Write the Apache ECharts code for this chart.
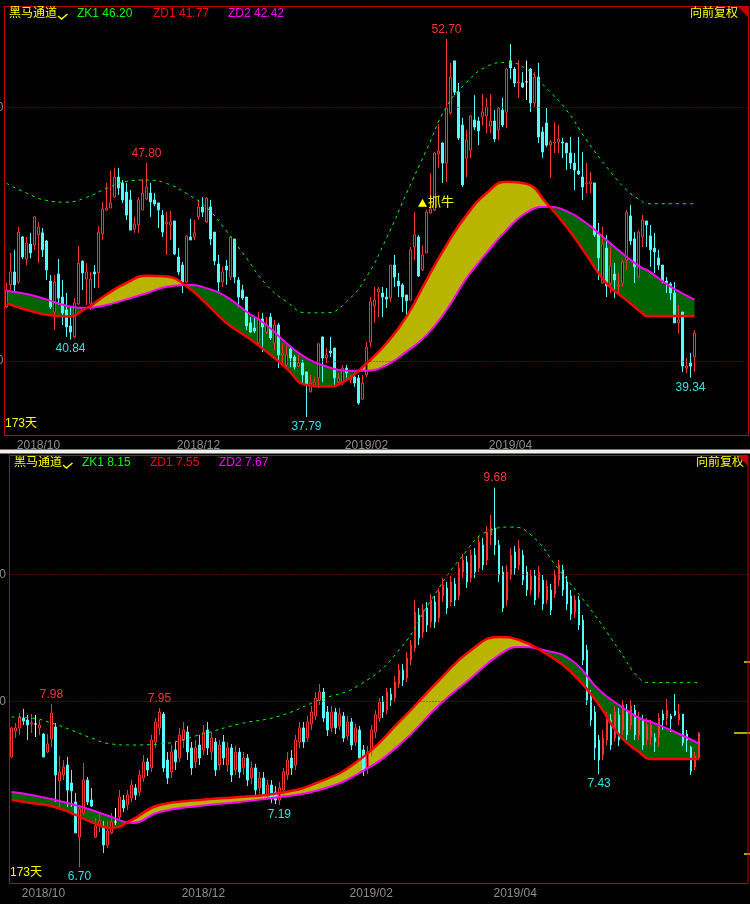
<!DOCTYPE html>
<html><head><meta charset="utf-8">
<script src="https://cdn.jsdelivr.net/npm/echarts@6/dist/echarts.min.js"></script>
<style>html,body{margin:0;padding:0;background:#000;}#c{width:750px;height:904px;}</style>
</head><body><div id="c"></div>
<script>
// ---------- shared ----------
const tickLabels = ['2018/10', '2018/12', '2019/02', '2019/04'];
const tickIndex = [8, 48, 90, 126];
const dayCountText = '173天';

// ---------- top panel (price) ----------
const topOpen = [42.13,43.00,43.51,43.11,44.89,44.02,44.61,44.57,44.97,45.05,44.73,43.15,41.93,43.43,42.52,42.01,41.38,40.95,42.25,43.94,43.23,42.25,43.51,43.47,45.01,45.95,46.03,46.46,47.25,47.02,46.66,46.35,45.20,45.36,45.95,46.39,46.62,46.35,46.23,45.75,45.40,45.36,45.52,44.10,43.78,43.11,44.89,44.89,45.68,46.07,45.48,46.07,45.08,43.82,43.11,43.74,43.31,44.81,43.19,42.80,42.52,41.50,41.30,40.71,41.66,41.14,41.73,40.71,41.42,40.24,39.84,40.47,40.16,39.80,39.92,39.57,38.78,39.05,39.33,40.95,40.12,40.39,40.51,39.17,39.13,39.72,39.25,39.37,39.33,38.50,39.45,40.75,42.17,42.72,42.68,42.52,42.48,43.78,43.15,43.00,42.60,42.40,44.49,44.89,43.59,44.26,45.83,45.95,48.16,48.59,47.80,49.78,51.83,50.60,49.30,48.00,48.32,49.50,49.46,49.62,49.66,49.26,49.46,49.11,49.89,49.81,51.83,51.51,50.96,50.96,51.00,51.51,50.17,51.19,49.03,49.38,48.51,48.59,48.63,48.63,48.59,48.20,47.80,47.49,47.25,46.98,46.98,47.02,45.01,43.07,44.45,43.07,43.43,42.96,43.07,43.98,45.72,44.81,43.31,44.89,45.52,44.93,44.45,44.06,43.78,43.15,43.04,42.68,41.50,41.93,39.72,39.92,40.16];
const topClose = [42.80,43.51,43.00,45.08,44.10,44.65,44.26,45.68,45.28,44.38,43.59,42.13,43.11,42.48,41.89,41.34,41.14,42.29,43.86,43.47,43.51,43.23,43.43,45.08,45.99,46.03,46.23,47.25,46.82,46.35,45.75,45.16,45.40,46.35,46.62,46.86,46.27,46.19,45.95,45.08,45.48,45.48,44.22,43.51,43.11,44.93,44.77,45.05,46.07,45.87,46.42,44.81,43.94,43.11,43.51,43.59,44.89,43.31,42.52,42.48,41.38,41.14,41.18,41.66,41.34,41.42,40.91,41.42,40.24,40.32,40.24,40.12,39.76,39.92,39.45,39.05,39.13,39.17,40.67,40.12,40.24,40.32,39.33,39.33,39.72,39.53,39.37,39.13,38.34,39.13,40.55,42.33,42.40,42.84,42.52,42.44,43.78,43.31,42.96,42.52,42.37,44.38,44.97,43.35,44.18,45.87,45.99,48.20,48.28,47.80,49.97,51.19,50.60,48.79,46.94,48.71,49.66,49.22,49.07,49.81,50.01,49.46,48.75,49.97,49.30,51.51,51.55,50.96,51.00,50.80,51.00,50.17,51.19,48.83,48.24,48.51,48.63,48.63,48.75,48.59,48.20,47.80,47.53,47.37,46.86,47.02,47.06,44.97,44.06,44.61,42.96,43.74,43.19,43.00,43.90,45.87,44.73,43.71,45.08,45.56,45.36,44.38,44.30,43.78,43.15,43.07,42.68,41.50,41.62,39.80,39.80,39.80,41.10];
const topLow = [42.09,42.80,42.68,43.04,44.02,43.78,44.06,44.38,43.86,44.10,43.19,42.05,41.22,42.21,41.42,40.95,40.84,40.90,42.21,42.80,42.21,42.01,42.88,42.88,44.77,45.91,46.03,46.42,46.54,46.23,45.56,45.16,45.05,45.05,45.95,46.35,45.68,46.11,45.24,44.89,44.18,44.77,44.18,43.39,42.68,43.07,44.77,44.77,45.56,45.68,45.44,44.57,43.78,42.72,42.92,43.00,43.19,43.07,42.13,42.40,41.22,41.10,41.10,40.63,40.35,41.06,40.83,40.43,39.72,39.92,39.72,39.76,39.65,39.76,39.13,37.79,38.78,38.94,38.94,39.17,39.92,40.16,39.05,39.05,39.05,39.33,39.13,38.98,38.27,38.46,39.37,40.55,41.50,41.73,41.73,42.09,42.33,42.92,42.52,41.93,41.69,42.37,43.98,43.31,43.55,44.26,45.83,45.91,47.61,47.02,47.06,49.70,50.48,48.71,46.86,47.25,48.00,49.11,48.51,49.30,48.99,48.99,48.63,48.71,49.22,49.18,51.12,50.80,50.37,50.76,50.29,49.81,50.01,48.59,48.00,48.44,47.21,48.20,48.20,48.00,47.53,47.57,46.74,47.33,46.35,46.62,46.62,44.89,43.19,43.07,42.52,42.68,42.48,42.68,42.92,43.59,44.57,43.07,43.27,44.49,44.49,43.71,43.47,43.59,43.07,42.68,42.40,41.50,41.10,39.57,39.53,39.34,39.57];
const topHigh = [43.07,44.26,44.38,45.28,44.93,44.89,45.05,45.70,45.48,45.24,44.77,43.39,43.39,44.02,43.19,42.68,42.13,42.48,44.53,43.96,43.86,43.51,43.78,45.32,46.27,47.02,47.49,47.61,47.61,47.13,47.02,46.74,45.68,46.46,47.17,47.80,47.02,46.62,46.23,45.95,45.87,45.91,45.52,44.45,43.90,44.97,45.60,45.56,46.35,46.46,46.46,46.35,45.08,44.18,43.71,43.98,44.89,44.81,43.31,43.00,42.52,41.73,41.69,41.93,41.89,41.73,41.89,41.62,41.50,40.71,40.63,40.51,40.24,40.24,40.04,39.57,39.45,39.37,40.71,40.95,40.51,40.95,40.51,39.53,39.84,39.84,39.45,39.53,39.45,39.45,40.75,42.52,42.92,42.92,42.92,42.88,43.78,44.18,43.47,43.07,42.60,44.49,45.87,44.97,44.57,45.95,47.41,48.24,49.34,48.63,52.70,51.75,51.83,50.96,49.58,49.11,49.70,50.48,49.62,50.52,50.37,50.52,49.89,50.01,50.37,51.55,52.49,51.59,51.86,51.39,51.83,51.55,51.39,51.75,49.22,49.97,48.71,49.42,49.30,48.79,48.59,48.83,48.20,48.83,48.24,47.80,47.45,47.02,45.44,45.28,44.97,44.49,43.86,43.47,43.98,45.95,46.15,45.08,45.16,45.75,45.52,45.36,45.05,44.38,43.78,43.31,43.11,43.11,42.21,41.93,40.12,40.32,41.22];
const topLineIdx = [0,5,10,15,20,25,30,35,40,45,50,55,60,65,70,75,80,85,90,95,100,105,110,115,120,125,130,135,140,145,150,155,159,160,166,172];
const topZD1 = [42.27,42.02,41.82,41.75,42.08,42.62,43.08,43.36,43.33,42.95,42.25,41.50,40.96,40.37,39.71,39.05,38.99,39.25,39.91,40.70,41.75,43.19,44.57,45.75,46.61,47.07,46.98,46.22,45.29,44.18,43.06,42.40,41.88,41.77,41.77,41.77];
const topZD2 = [42.77,42.64,42.43,42.18,42.10,42.21,42.43,42.67,42.93,43.00,42.87,42.53,41.94,41.42,40.70,40.11,39.78,39.62,39.62,39.84,40.37,41.02,42.01,43.26,44.25,45.16,45.85,46.08,45.91,45.43,44.77,44.11,43.65,43.60,42.93,42.42];
const topZK1 = [47.00,46.62,46.33,46.26,46.45,46.80,47.08,47.13,47.00,46.60,46.05,45.12,44.05,43.00,42.34,41.90,41.90,42.34,43.32,44.84,46.61,48.32,50.02,50.98,51.60,51.77,51.50,50.75,49.89,48.71,47.66,46.74,46.28,46.20,46.20,46.20];
const topCross = [20.5, 44.5, 88, 136];
const topGridValues = [40, 50];
const topHighMarks = [110, 35];
const topLowMarks = [16, 75, 171];
const signalIdx = 104, signalPrice = 46.24, signalText = '抓牛';

// ---------- bottom panel ----------
const botOpen = [7.566,7.770,7.794,7.872,7.856,7.825,7.825,7.794,7.746,7.605,7.707,7.801,7.378,7.425,7.503,7.362,7.213,6.938,7.126,7.385,7.228,6.938,7.024,7.024,6.875,6.970,7.056,7.095,
7.228,7.190,7.244,7.323,7.291,7.401,7.527,7.480,7.684,7.794,7.903,7.542,7.448,7.621,7.558,7.699,7.762,7.637,7.527,7.660,7.621,7.778,7.605,7.684,7.503,7.684,7.503,7.637,7.464,7.605,7.480,7.558,7.401,7.480,7.323,7.401,7.268,7.346,7.291,7.228,7.307,7.425,7.558,7.503,7.684,7.794,7.715,7.825,7.888,8.013,8.076,7.919,7.794,7.919,7.809,7.888,7.731,7.841,7.684,7.778,7.621,7.480,7.621,7.762,7.872,7.998,7.935,8.060,8.029,8.139,8.249,8.186,8.327,8.421,8.680,8.547,8.735,8.626,8.783,8.657,8.830,8.892,8.783,8.924,8.830,9.018,9.096,8.971,9.151,9.049,9.230,9.112,9.308,9.363,9.230,9.018,8.798,8.994,9.175,9.073,9.151,9.018,8.877,8.987,8.861,8.955,8.798,8.877,8.845,8.955,9.034,8.940,8.830,8.704,8.798,8.641,8.406,8.053,7.919,7.699,7.582,7.699,7.856,7.715,7.896,7.778,7.935,7.817,7.935,7.739,7.856,7.699,7.723,7.717,7.723,7.903,7.872,7.888,7.927,7.856,7.903,7.746,7.644,7.487,7.558];
const botClose = [7.794,7.794,7.872,7.848,7.817,7.833,7.825,7.817,7.566,7.668,7.911,7.425,7.448,7.487,7.307,7.300,6.970,7.158,7.385,7.213,7.181,7.024,7.064,6.875,6.985,7.056,7.056,7.252,
7.166,7.268,7.346,7.268,7.425,7.527,7.464,7.699,7.841,7.919,7.480,7.401,7.605,7.527,7.739,7.778,7.605,7.480,7.637,7.558,7.762,7.637,7.715,7.464,7.660,7.558,7.637,7.425,7.605,7.448,7.558,7.385,7.480,7.307,7.401,7.268,7.346,7.244,7.228,7.323,7.448,7.542,7.480,7.699,7.794,7.684,7.841,7.919,8.029,8.076,7.872,7.778,7.919,7.794,7.903,7.715,7.841,7.660,7.794,7.558,7.464,7.605,7.778,7.896,7.998,7.919,8.076,8.013,8.155,8.249,8.170,8.343,8.445,8.704,8.500,8.720,8.602,8.798,8.626,8.861,8.916,8.735,8.940,8.798,9.049,9.112,8.940,9.151,9.018,9.253,9.073,9.332,9.363,9.230,8.994,8.735,9.018,9.151,9.049,9.206,8.955,8.877,8.987,8.798,9.018,8.767,8.908,8.720,8.994,9.073,8.877,8.767,8.688,8.798,8.602,8.327,8.013,7.856,7.637,7.542,7.715,7.872,7.660,7.919,7.699,7.974,7.739,7.966,7.739,7.872,7.660,7.817,7.817,7.686,7.872,7.856,7.935,7.864,7.896,7.903,7.676,7.699,7.456,7.574,7.754];
const botLow = [7.560,7.715,7.739,7.817,7.699,7.754,7.723,7.739,7.566,7.597,7.644,7.213,7.173,7.385,7.173,7.173,6.970,6.700,7.111,7.189,7.173,6.930,6.977,6.813,6.852,6.960,7.032,7.071,
7.134,7.150,7.213,7.228,7.260,7.370,7.417,7.448,7.637,7.739,7.448,7.354,7.401,7.464,7.527,7.637,7.542,7.425,7.480,7.503,7.582,7.582,7.542,7.417,7.464,7.503,7.448,7.370,7.425,7.401,7.425,7.338,7.354,7.268,7.276,7.228,7.228,7.205,7.197,7.190,7.268,7.385,7.425,7.464,7.637,7.637,7.684,7.778,7.856,7.974,7.841,7.731,7.762,7.746,7.778,7.684,7.699,7.621,7.652,7.527,7.417,7.433,7.574,7.715,7.841,7.872,7.903,7.966,7.998,8.108,8.123,8.155,8.288,8.390,8.445,8.500,8.547,8.578,8.578,8.626,8.783,8.688,8.751,8.751,8.798,8.971,8.892,8.940,8.971,9.018,9.034,9.073,9.230,9.151,8.940,8.704,8.751,8.955,8.994,9.034,8.916,8.830,8.837,8.759,8.814,8.720,8.767,8.680,8.814,8.908,8.830,8.720,8.641,8.657,8.563,8.288,7.974,7.809,7.542,7.430,7.542,7.660,7.621,7.684,7.652,7.739,7.699,7.778,7.699,7.699,7.621,7.660,7.660,7.605,7.644,7.778,7.817,7.762,7.888,7.817,7.652,7.605,7.425,7.464,7.558];
const botHigh = [7.800,7.833,7.911,7.943,7.896,7.904,7.896,7.856,7.754,7.746,7.980,7.833,7.574,7.542,7.566,7.464,7.283,7.189,7.519,7.409,7.322,7.087,7.126,7.064,7.064,7.126,7.166,7.307,
7.268,7.307,7.385,7.354,7.464,7.582,7.558,7.739,7.872,7.950,7.919,7.605,7.660,7.684,7.794,7.841,7.809,7.684,7.699,7.739,7.817,7.841,7.762,7.715,7.699,7.739,7.684,7.668,7.652,7.637,7.605,7.589,7.527,7.511,7.448,7.448,7.385,7.385,7.338,7.370,7.480,7.605,7.621,7.739,7.841,7.841,7.888,7.966,8.076,8.139,8.108,7.966,7.966,7.951,7.951,7.919,7.888,7.872,7.825,7.809,7.660,7.652,7.817,7.935,8.029,8.045,8.108,8.108,8.202,8.296,8.296,8.390,8.484,8.798,8.735,8.767,8.783,8.845,8.830,8.892,8.971,8.940,8.987,8.971,9.096,9.159,9.144,9.191,9.206,9.300,9.285,9.379,9.465,9.680,9.269,9.065,9.073,9.206,9.222,9.269,9.191,9.065,9.034,9.034,9.065,8.994,8.955,8.924,9.034,9.112,9.073,8.987,8.877,8.837,8.830,8.680,8.445,8.092,7.966,7.739,7.778,7.919,7.903,7.966,7.951,8.013,7.982,8.013,7.974,7.919,7.896,7.872,7.856,7.754,7.911,7.935,8.021,7.903,8.060,7.982,7.903,7.778,7.652,7.605,7.762];
const botLineIdx = [0,5,10,15,20,25,30,37,47,57,67,77,87,97,107,115,122,127,133,140,147,152,157,160,166,172];
const botZD1 = [7.228,7.205,7.181,7.126,7.056,7.009,7.071,7.189,7.228,7.252,7.283,7.370,7.542,7.841,8.170,8.406,8.508,8.484,8.390,8.233,7.974,7.739,7.605,7.550,7.550,7.550];
const botZD2 = [7.291,7.268,7.236,7.197,7.150,7.095,7.048,7.134,7.181,7.213,7.252,7.307,7.440,7.660,7.974,8.186,8.367,8.429,8.406,8.327,8.092,7.974,7.872,7.841,7.762,7.670];
const botZK1Idx = [0,5,10,15,20,25,30,37,47,57,67,77,87,97,105,112,120,125,130,137,145,152,157,160,166,172];
const botZK1 = [7.880,7.872,7.833,7.777,7.715,7.668,7.660,7.668,7.739,7.825,7.888,8.013,8.131,8.406,8.798,9.112,9.348,9.371,9.308,9.034,8.720,8.406,8.186,8.150,8.150,8.150];
const botCross = [29, 131.6];
const botGridValues = [8, 9];
const botHighMarks = [121, 10, 37];
const botLowMarks = [17, 67, 147];

// ---------- build ----------
const N = 173;
const FONT = "'Liberation Sans','Noto Sans CJK SC',sans-serif";
const UP = '#ff3232', DOWN = '#54fcfc', GREENF = '#006400', YELLOWF = '#b9b400';
const labelMap = {}; tickIndex.forEach((k, j) => labelMap[k] = tickLabels[j]);

function ohlc(o, c, l, h) {
  const out = [];
  for (let i = 0; i < N; i++) out.push(o[i] == null ? '-' : [o[i], c[i], l[i], h[i]]);
  return out;
}
function pairs(idx, v) { return idx.map((x, i) => [x, v[i]]); }
function diffs(idx, a, b) { return idx.map((x, i) => [x, +(b[i] - a[i]).toFixed(4)]); }
function cats(total) { const a = []; for (let i = 0; i < total; i++) a.push(String(i)); return a; }
function pieces(cross) {
  const cols = [GREENF, YELLOWF]; const p = [];
  p.push({ lt: cross[0], color: cols[0] });
  for (let k = 0; k < cross.length; k++) {
    const it = { gte: cross[k], color: cols[(k + 1) % 2] };
    if (k + 1 < cross.length) it.lt = cross[k + 1];
    p.push(it);
  }
  return p;
}
function marks(high, low, hiIdx, loIdx) {
  const d = [];
  hiIdx.forEach(i => d.push({ coord: [i, high[i]], value: high[i], label: { position: 'top', color: UP } }));
  loIdx.forEach(i => d.push({ coord: [i, low[i]], value: low[i], label: { position: 'bottom', color: '#2fe6e6' } }));
  return d;
}
function xAxis(g, total) {
  return { gridIndex: g, type: 'category', data: cats(total), boundaryGap: true,
    axisLine: { show: false }, axisTick: { show: false }, splitLine: { show: false },
    axisLabel: { interval: 0, color: '#8c8c8c', fontSize: 12, fontFamily: FONT, margin: 4,
      formatter: (v, i) => labelMap[i] || '' } };
}
function panelSeries(g, o, c, l, h, lineIdx, zd1, zd2, zk1Idx, zk1, gridVals, hiIdx, loIdx, labelDist, extraMarks) {
  return [
    { type: 'line', xAxisIndex: g, yAxisIndex: g, stack: 'band' + g, stackStrategy: 'all', smooth: true,
      symbol: 'none', silent: true, z: 1, data: pairs(lineIdx, zd1), lineStyle: { opacity: 0 },
      markLine: { silent: true, symbol: ['none', 'none'], animation: false,
        lineStyle: { type: [1, 2], color: '#a00000', width: 1 },
        label: { show: true, position: 'start', distance: labelDist, color: '#8c8c8c', fontSize: 12, fontFamily: FONT,
          formatter: p => p.value.toFixed(2) },
        data: gridVals.map(v => ({ yAxis: v })) } },
    { type: 'line', xAxisIndex: g, yAxisIndex: g, stack: 'band' + g, stackStrategy: 'all', smooth: true,
      symbol: 'none', silent: true, z: 1, data: diffs(lineIdx, zd1, zd2), lineStyle: { opacity: 0, color: '#ff00ff' },
      areaStyle: { opacity: 1 } },
    { type: 'candlestick', xAxisIndex: g, yAxisIndex: g, barWidth: 2, z: 2, silent: true,
      data: ohlc(o, c, l, h),
      itemStyle: { color: '#000', color0: DOWN, borderColor: UP, borderColor0: DOWN, borderColorDoji: '#ffffff', borderWidth: 1 },
      markPoint: { silent: true, symbol: 'circle', symbolSize: 1, itemStyle: { color: 'rgba(0,0,0,0)' }, animation: false,
        label: { show: true, fontSize: 12, fontFamily: FONT, distance: 3, formatter: p => (typeof p.value === 'number' ? p.value.toFixed(2) : p.value) },
        data: marks(h, l, hiIdx, loIdx).concat(extraMarks) } },
    { type: 'line', xAxisIndex: g, yAxisIndex: g, smooth: true, symbol: 'none', silent: true, z: 3,
      data: pairs(lineIdx, zd2), lineStyle: { color: '#ff00ff', width: 2 } },
    { type: 'line', xAxisIndex: g, yAxisIndex: g, smooth: true, symbol: 'none', silent: true, z: 3,
      data: pairs(lineIdx, zd1), lineStyle: { color: '#ff0000', width: 2.5 } },
    { type: 'line', xAxisIndex: g, yAxisIndex: g, smooth: true, symbol: 'none', silent: true, z: 3,
      data: pairs(zk1Idx, zk1), lineStyle: { color: '#00ff00', width: 1, type: [3, 4] } }
  ];
}
const signalMark = [{ coord: [signalIdx, signalPrice], value: signalText, symbol: 'triangle', symbolSize: [9, 8],
  itemStyle: { color: '#ffff00' }, label: { position: 'right', distance: 1, color: '#ffff00', fontSize: 13 } }];

const series = [].concat(
  panelSeries(0, topOpen, topClose, topLow, topHigh, topLineIdx, topZD1, topZD2, topLineIdx, topZK1, topGridValues, topHighMarks, topLowMarks, 1, signalMark),
  panelSeries(1, botOpen, botClose, botLow, botHigh, botLineIdx, botZD1, botZD2, botZK1Idx, botZK1, botGridValues, botHighMarks, botLowMarks, 3.5, [])
);

const last = a => a[a.length - 1];
function header(x0, y, zk1, zd1, zd2, xs) {
  return [
    { type: 'text', left: x0, top: y - 7, style: { text: '黑马通道', fill: '#ffff00', font: '12px ' + FONT } },
    { type: 'polyline', shape: { points: [[x0 + 49, y + 1], [x0 + 52.5, y + 4], [x0 + 58.5, y - 1]] }, style: { stroke: '#ffff00', lineWidth: 1.5, fill: null } },
    { type: 'text', left: xs[0], top: y - 7, style: { text: 'ZK1 ' + zk1, fill: '#00ff00', font: '12px ' + FONT } },
    { type: 'text', left: xs[1], top: y - 7, style: { text: 'ZD1 ' + zd1, fill: '#ff0000', font: '12px ' + FONT } },
    { type: 'text', left: xs[2], top: y - 7, style: { text: 'ZD2 ' + zd2, fill: '#ff00ff', font: '12px ' + FONT } }
  ];
}
const graphic = [].concat(
  [{ type: 'rect', shape: { x: 0, y: 449.5, width: 750, height: 4 }, style: { fill: '#f4eded' } },
   { type: 'rect', z: 10, shape: { x: 9.5, y: 455.5, width: 738.5, height: 428 }, style: { fill: null, stroke: '#c80000', lineWidth: 1 } }],
  header(9, 15, last(topZK1).toFixed(2), last(topZD1).toFixed(2), last(topZD2).toFixed(2), [77, 153, 228]),
  header(14, 464, last(botZK1).toFixed(2), last(botZD1).toFixed(2), last(botZD2).toFixed(2), [82, 150, 219]),
  [
    { type: 'text', right: 12, top: 8, style: { text: '向前复权', fill: '#ffff00', font: '12px ' + FONT } },
    { type: 'text', right: 6, top: 457, style: { text: '向前复权', fill: '#ffff00', font: '12px ' + FONT } },
    { type: 'text', left: 5, top: 418, style: { text: dayCountText, fill: '#ffff00', font: '12px ' + FONT } },
    { type: 'text', left: 10, top: 867, style: { text: dayCountText, fill: '#ffff00', font: '12px ' + FONT } },
    { type: 'polygon', shape: { points: [[738, 7], [748, 7], [748, 17]] }, style: { fill: '#c00000' } },
    { type: 'polygon', shape: { points: [[738, 456], [748, 456], [748, 466]] }, style: { fill: '#c00000' } },
    { type: 'line', shape: { x1: 744, y1: 662, x2: 750, y2: 662 }, style: { stroke: '#e6e600', lineWidth: 1.5 } },
    { type: 'line', shape: { x1: 734, y1: 733, x2: 750, y2: 733 }, style: { stroke: '#e6e600', lineWidth: 1.5 } },
    { type: 'line', shape: { x1: 744, y1: 854, x2: 750, y2: 854 }, style: { stroke: '#e6e600', lineWidth: 1.5 } }
  ]
);

const chart = echarts.init(document.getElementById('c'), null, { renderer: 'canvas' });
chart.setOption({
  backgroundColor: '#000',
  animation: false,
  grid: [
    { left: 4.5, top: 6.5, width: 744, height: 429, show: true, backgroundColor: '#000', borderColor: '#c80000', borderWidth: 1 },
    { left: 9.5, top: 455.5, width: 740, height: 428, show: false }
  ],
  xAxis: [xAxis(0, 186), xAxis(1, 185)],
  yAxis: [
    { gridIndex: 0, type: 'value', min: 37.063, max: 53.973, show: false, splitLine: { show: false } },
    { gridIndex: 1, type: 'value', min: 6.573, max: 9.9325, show: false, splitLine: { show: false } }
  ],
  visualMap: [
    { type: 'piecewise', show: false, seriesIndex: 1, dimension: 0, pieces: pieces(topCross) },
    { type: 'piecewise', show: false, seriesIndex: 7, dimension: 0, pieces: pieces(botCross) }
  ],
  series: series,
  graphic: graphic
});
</script></body></html>
